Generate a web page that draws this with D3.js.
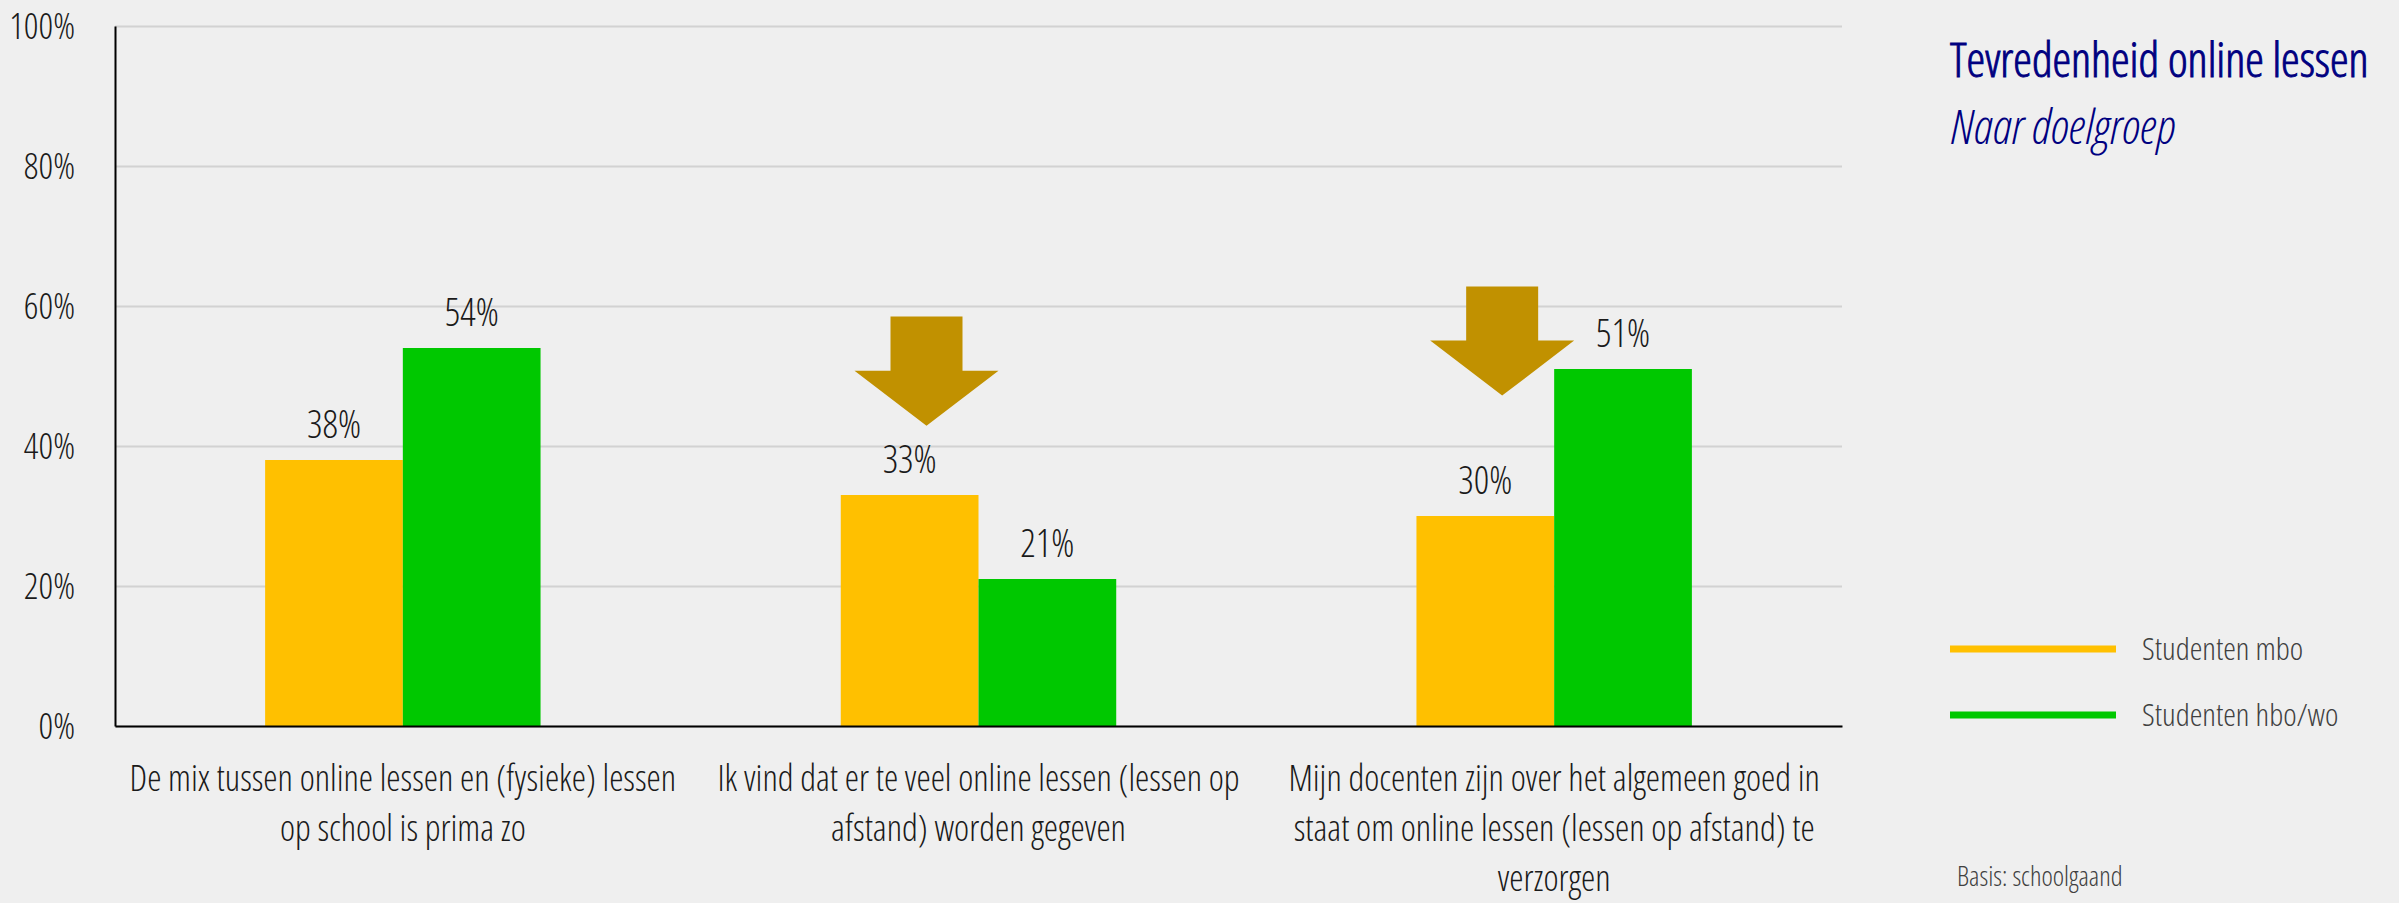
<!DOCTYPE html>
<html>
<head>
<meta charset="utf-8">
<script src="https://cdn.jsdelivr.net/npm/d3@7"></script>
<style>
  body { margin: 0; background: #efefef; }
  svg { display: block; }
  text { font-family: "Open Sans", "Liberation Sans Narrow", sans-serif; font-stretch: condensed; font-weight: 300; }
</style>
</head>
<body>
<div class="chart"></div>
<script>
// data
const categories = ['mix', 'teveel', 'docenten'];
const categoryLines = [
    ['De mix tussen online lessen en (fysieke) lessen', 'op school is prima zo'],
    ['Ik vind dat er te veel online lessen (lessen op', 'afstand) worden gegeven'],
    ['Mijn docenten zijn over het algemeen goed in', 'staat om online lessen (lessen op afstand) te', 'verzorgen']
];
const seriesNames = ['Studenten mbo', 'Studenten hbo/wo'];
const mboValues = [38, 33, 30];
const hboValues = [54, 21, 51];
const yTicks = [0, 20, 40, 60, 80, 100];
// arrows: category, top and tip in % of the y axis
const arrowCats = ['teveel', 'docenten'];
const arrowTop = [58.5, 62.8];
const arrowTip = [42.9, 47.2];

const width = 2399;
const height = 903;
const margin = {top: 26, right: 557, bottom: 177, left: 115};

const colors = ['#ffc000', '#00c800'];

const svg = d3.select('.chart')
    .append('svg')
    .attr('width', width)
    .attr('height', height);

svg.append('rect')
    .attr('width', width)
    .attr('height', height)
    .attr('fill', '#efefef');

const x0 = d3.scaleBand()
    .domain(categories)
    .range([margin.left, width - margin.right])
    .padding(0);

const x1 = d3.scaleBand()
    .domain(seriesNames)
    .range([0, x0.bandwidth()])
    .paddingInner(0)
    .paddingOuter(1.09);

const yScale = d3.scaleLinear()
    .domain([0, 100])
    .range([height - margin.bottom, margin.top]);

const colorScale = d3.scaleOrdinal()
    .domain(seriesNames)
    .range(colors);

// gridlines
const grid = d3.axisLeft(yScale)
    .tickValues(yTicks)
    .tickSize(-(width - margin.left - margin.right))
    .tickFormat('');

svg.append('g')
    .attr('class', 'grid')
    .attr('transform', `translate(${margin.left},0)`)
    .call(grid)
    .call(g => g.select('.domain').remove())
    .call(g => g.selectAll('line').attr('stroke', '#d2d2d2').attr('stroke-width', 2));

// bars
const rows = categories.map((c, i) => ({cat: c, values: [mboValues[i], hboValues[i]]}));

const groups = svg.selectAll('.group')
    .data(rows)
    .enter()
    .append('g')
    .attr('transform', d => `translate(${x0(d.cat)},0)`);

groups.selectAll('rect')
    .data(d => d.values.map((v, j) => ({series: seriesNames[j], value: v})))
    .enter()
    .append('rect')
    .attr('x', d => x1(d.series))
    .attr('width', x1.bandwidth())
    .attr('y', d => yScale(d.value))
    .attr('height', d => yScale(0) - yScale(d.value))
    .attr('fill', d => colorScale(d.series));

groups.selectAll('.val')
    .data(d => d.values.map((v, j) => ({series: seriesNames[j], value: v})))
    .enter()
    .append('text')
    .attr('x', d => x1(d.series) + x1.bandwidth() / 2)
    .attr('y', d => yScale(d.value) - 22)
    .attr('text-anchor', 'middle')
    .attr('font-size', 38)
    .attr('fill', '#1a1a1a')
    .text(d => d.value + '%');

// y axis
const yAxis = d3.axisLeft(yScale)
    .tickValues(yTicks)
    .tickSize(0)
    .tickPadding(40)
    .tickFormat(d => d + '%');

svg.append('g')
    .attr('class', 'axis y-axis')
    .attr('transform', `translate(${margin.left},0)`)
    .call(yAxis)
    .call(g => g.select('.domain').attr('stroke', '#000').attr('stroke-width', 2))
    .call(g => g.selectAll('text')
        .attr('font-size', 36)
        .attr('fill', '#1a1a1a')
        .attr('dy', null)
        .attr('y', 12)
        .style('font-family', null));

// x axis
const xAxis = d3.axisBottom(x0)
    .tickSize(0)
    .tickFormat('');

svg.append('g')
    .attr('class', 'axis x-axis')
    .attr('transform', `translate(0,${yScale(0)})`)
    .call(xAxis)
    .call(g => g.select('.domain').attr('stroke', '#000').attr('stroke-width', 2));

categories.forEach((c, i) => {
    const t = svg.append('text')
        .attr('text-anchor', 'middle')
        .attr('font-size', 36)
        .attr('fill', '#1a1a1a');
    categoryLines[i].forEach((line, k) => {
        t.append('tspan')
            .attr('x', x0(c) + x0.bandwidth() / 2)
            .attr('y', yScale(0) + 65 + k * 50)
            .text(line);
    });
});

// arrows
const arrowShift = -52;
arrowCats.forEach((c, i) => {
    const cx = x0(c) + x0.bandwidth() / 2 + arrowShift;
    const top = yScale(arrowTop[i]);
    const tip = yScale(arrowTip[i]);
    const headTop = tip - 55;
    const pts = [
        [cx - 36, top], [cx + 36, top], [cx + 36, headTop], [cx + 72, headTop],
        [cx, tip], [cx - 72, headTop], [cx - 36, headTop]
    ];
    svg.append('path')
        .attr('d', d3.line()(pts) + 'Z')
        .attr('fill', '#c19100');
});

// title
svg.append('text')
    .attr('x', 1950)
    .attr('y', 77)
    .attr('font-size', 47)
    .attr('fill', '#000080')
    .attr('stroke', '#000080')
    .attr('stroke-width', 0.9)
    .text('Tevredenheid online lessen');

svg.append('text')
    .attr('x', 1951)
    .attr('y', 144)
    .attr('font-size', 48)
    .attr('font-style', 'italic')
    .attr('fill', '#000080')
    .text('Naar doelgroep');

// legend
const legend = svg.selectAll('.legend')
    .data(seriesNames)
    .enter()
    .append('g')
    .attr('transform', (d, i) => `translate(1950,${649 + i * 66})`);

legend.append('line')
    .attr('x1', 0)
    .attr('x2', 166)
    .attr('stroke', d => colorScale(d))
    .attr('stroke-width', 7);

legend.append('text')
    .attr('x', 192)
    .attr('y', 11)
    .attr('font-size', 32)
    .attr('fill', '#404040')
    .text(d => d);

svg.append('text')
    .attr('x', 1957)
    .attr('y', 886)
    .attr('font-size', 27)
    .attr('fill', '#404040')
    .text('Basis: schoolgaand');
</script>
</body>
</html>
